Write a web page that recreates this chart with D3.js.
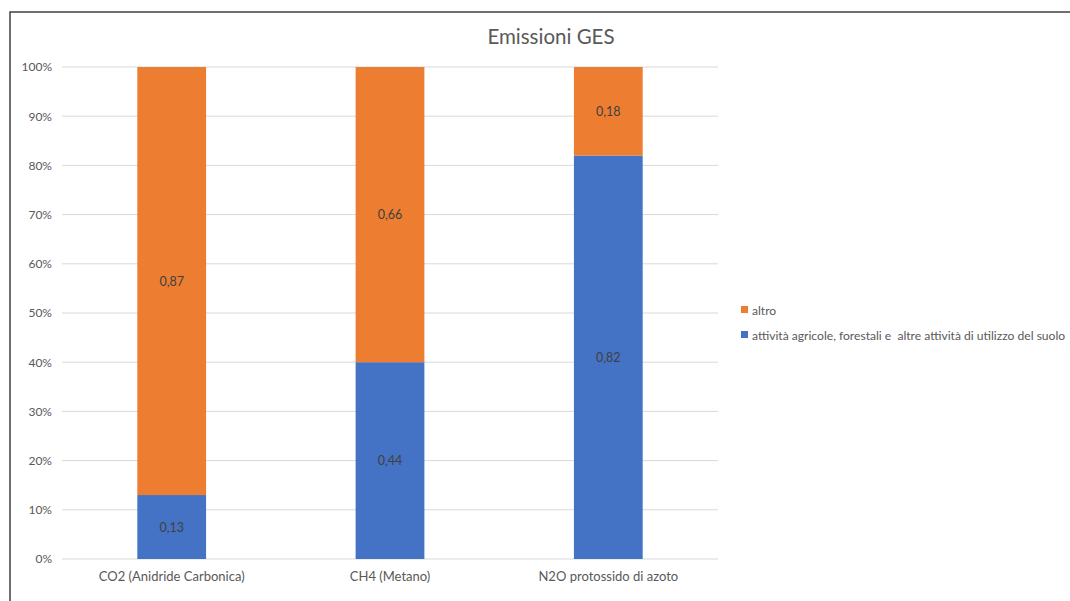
<!DOCTYPE html>
<html>
<head>
<meta charset="utf-8">
<script src="https://cdn.jsdelivr.net/npm/d3@7"></script>
<style>
  html, body { margin: 0; padding: 0; background: #fff; overflow: hidden; }
  svg { display: block; font-family: Lato, "Open Sans", sans-serif; }
</style>
</head>
<body>
<svg id="chart" width="1070" height="601"></svg>
<script>
// Greenhouse gas emissions: share by source, per gas (100% stacked)
const categories = ["CO2 (Anidride Carbonica)", "CH4 (Metano)", "N2O protossido di azoto"];
const seriesNames = ["attività agricole, forestali e  altre attività di utilizzo del suolo", "altro"];
const agricolturaValues = [0.13, 0.44, 0.82];
const altroValues = [0.87, 0.66, 0.18];
const tickValues = [0, 0.1, 0.2, 0.3, 0.4, 0.5, 0.6, 0.7, 0.8, 0.9, 1.0];
const colors = ["#4472C4", "#ED7D31"];

const svg = d3.select("#chart");
const FONT = "Lato, 'Open Sans', sans-serif";

// chart frame
svg.append("rect")
  .attr("x", 10).attr("y", 12)
  .attr("width", 1100).attr("height", 700)
  .attr("fill", "#fff")
  .attr("stroke", "#404040").attr("stroke-width", 1.5);

const plot = { left: 62, right: 718, top: 67, bottom: 559 };

const x = d3.scaleBand()
  .domain(categories)
  .range([plot.left, plot.right])
  .paddingInner(0.685)
  .paddingOuter(0.345);

const y = d3.scaleLinear().domain([0, 1]).range([plot.bottom, plot.top]);

// title
svg.append("text")
  .attr("x", 551)
  .attr("y", 44)
  .attr("text-anchor", "middle")
  .attr("fill", "#595959")
  .attr("font-size", 20.5)
  .text("Emissioni GES");

// gridlines
svg.append("g")
  .selectAll("line")
  .data(tickValues)
  .join("line")
  .attr("x1", plot.left).attr("x2", plot.right)
  .attr("y1", d => y(d)).attr("y2", d => y(d))
  .attr("stroke", "#d9d9d9").attr("stroke-width", 1);

// y axis labels
const yAxis = d3.axisLeft(y)
  .tickValues(tickValues)
  .tickFormat(d3.format(".0%"))
  .tickSize(0)
  .tickPadding(10);
const yg = svg.append("g").attr("transform", `translate(${plot.left},0)`).call(yAxis);
yg.select(".domain").remove();
yg.selectAll("text").attr("fill", "#595959").attr("font-size", 12)
  .attr("font-family", FONT);

// stacked data, normalised per category
const rows = categories.map((c, i) => ({ cat: c, agri: agricolturaValues[i], altro: altroValues[i] }));
const stack = d3.stack().keys(["agri", "altro"]).offset(d3.stackOffsetExpand);
const stacked = stack(rows);
const rawByKey = { agri: agricolturaValues, altro: altroValues };

const layers = svg.append("g").selectAll("g")
  .data(stacked)
  .join("g")
  .attr("fill", (d, i) => colors[i]);

layers.selectAll("rect")
  .data(d => d.map((p, i) => ({ p, i, key: d.key })))
  .join("rect")
  .attr("x", d => x(d.p.data.cat))
  .attr("width", x.bandwidth())
  .attr("y", d => y(d.p[1]))
  .attr("height", d => y(d.p[0]) - y(d.p[1]));

// value labels (raw values, comma decimal)
const fmt = v => d3.format(".2f")(v).replace(".", ",");
svg.append("g").selectAll("g")
  .data(stacked)
  .join("g")
  .selectAll("text")
  .data(d => d.map((p, i) => ({ p, i, key: d.key })))
  .join("text")
  .attr("x", d => x(d.p.data.cat) + x.bandwidth() / 2)
  .attr("y", d => (y(d.p[0]) + y(d.p[1])) / 2 + 4.5)
  .attr("text-anchor", "middle")
  .attr("fill", "#404040")
  .attr("font-size", 12.5)
  .text(d => fmt(rawByKey[d.key][d.i]));

// x axis labels
const xAxis = d3.axisBottom(x).tickSize(0).tickPadding(13);
const xg = svg.append("g").attr("transform", `translate(0,${plot.bottom})`).call(xAxis);
xg.select(".domain").remove();
xg.selectAll("text").attr("fill", "#595959").attr("font-size", 13)
  .attr("font-family", FONT);

// legend (top entry: altro)
const legendItems = [
  { name: seriesNames[1], color: colors[1] },
  { name: seriesNames[0], color: colors[0] }
];
const lg = svg.append("g").selectAll("g")
  .data(legendItems)
  .join("g")
  .attr("transform", (d, i) => `translate(741,${310 + i * 25})`);
lg.append("rect").attr("x", 0).attr("y", -4).attr("width", 7).attr("height", 7).attr("fill", d => d.color);
lg.append("text").attr("x", 11).attr("y", 4.5)
  .attr("fill", "#595959").attr("font-size", 12.1)
  .style("white-space", "pre")
  .text(d => d.name);
</script>
</body>
</html>
